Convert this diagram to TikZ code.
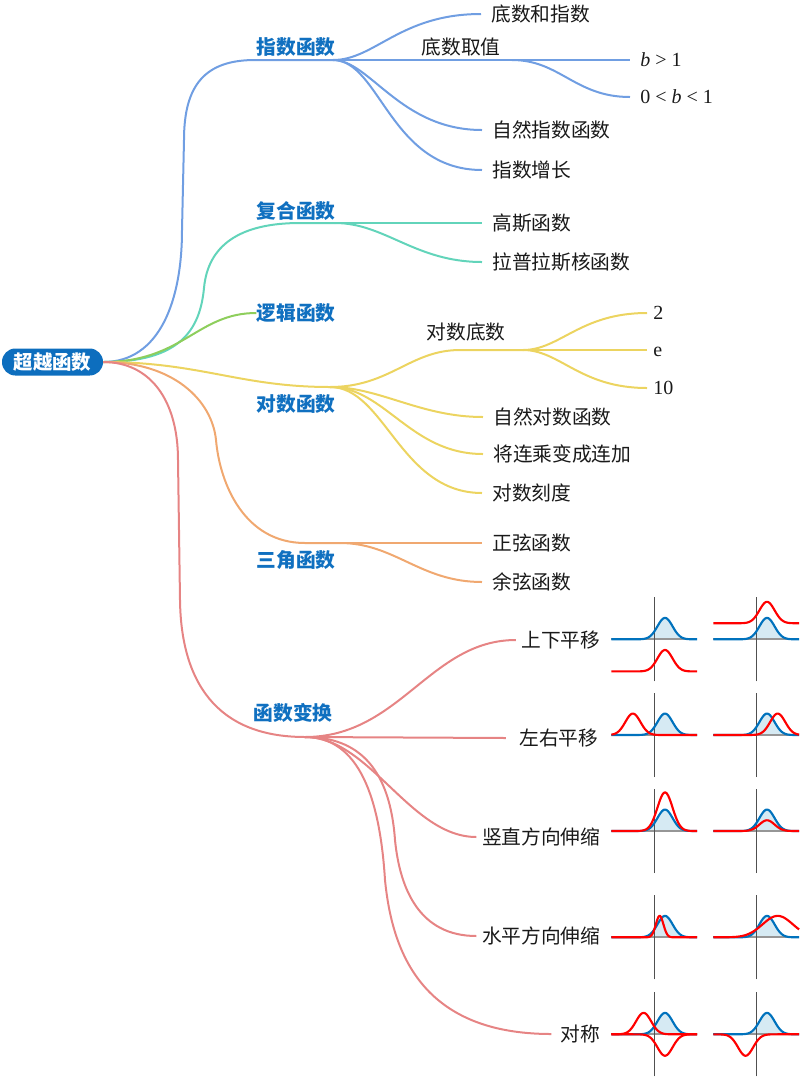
\documentclass[tikz,border=0pt]{standalone}
\usepackage{fontspec}
\setmainfont{Liberation Serif}
\newfontfamily\cjk{Noto Sans CJK SC}
\definecolor{rootblue}{RGB}{13,110,190}
\definecolor{lvblue}{RGB}{16,112,192}
\definecolor{cblue}{RGB}{112,158,226}
\definecolor{cteal}{RGB}{98,212,186}
\definecolor{cgreen}{RGB}{142,206,92}
\definecolor{cyellow}{RGB}{236,212,96}
\definecolor{corange}{RGB}{240,168,112}
\definecolor{cred}{RGB}{230,132,132}
\definecolor{pblue}{RGB}{0,114,189}
\definecolor{pfill}{RGB}{214,234,243}
\definecolor{pgray}{RGB}{150,150,150}
\definecolor{paxis}{RGB}{80,80,80}
\definecolor{txt}{RGB}{25,25,25}
\tikzset{
  conn/.style={line width=1.5pt},
  rootbox/.style={fill=rootblue, text=white, font=\cjk\bfseries\fontsize{14.6pt}{16pt}\selectfont,
    rounded corners=10pt, minimum width=75.75pt, minimum height=20.25pt, inner sep=0pt,
    text height=11.2pt, text depth=0pt},
  lvone/.style={text=lvblue, font=\cjk\bfseries\fontsize{14.8pt}{16pt}\selectfont,
    inner sep=0pt, text height=11.2pt, text depth=0pt},
  plain/.style={text=txt, font=\cjk\fontsize{14.8pt}{16pt}\selectfont,
    inner sep=0pt, text height=11.2pt, text depth=0pt},
  child/.style={plain, anchor=west, inner xsep=7.5pt},
  rchild/.style={plain, anchor=east, inner xsep=4pt},
  numchild/.style={text=txt, font=\fontsize{15pt}{17pt}\selectfont, anchor=west,
    inner xsep=4.5pt, inner ysep=0pt, text height=10.2pt, text depth=0pt},
  bchild/.style={numchild, inner xsep=7.5pt},
  pfillst/.style={fill=pfill},
  pbasest/.style={draw=pgray, line width=1.5pt},
  paxisst/.style={draw=paxis, line width=0.8pt},
  pbluest/.style={draw=pblue, line width=1.6pt},
  predst/.style={draw=red, line width=1.6pt},
  gbase/.pic={
    \fill[pfillst] (-4,0) -- plot[domain=-4:4,samples=120] (\x,{gs(\x,1)}) -- (4,0) -- cycle;
    \draw[pbasest] (-4,0) -- (4,0);
    \draw[paxisst] (0,-3.93) -- (0,3.93);
    \draw[pbluest] plot[domain=-4:4,samples=120] (\x,{gs(\x,1)});
  }
}
\begin{document}
\begin{tikzpicture}[x=0.75pt,y=-0.75pt,
  declare function={gs(\t,\c)=2*exp(-((\t-\c)*(\t-\c)));}]
\useasboundingbox (0,0) rectangle (804,1083);

% root
\node[rootbox] (root) at (52.5,362) {超越函数};

% level 1 labels and branch points
\node[lvone] (zst) at (296,47) {指数函数};
\coordinate (zs) at (333,60);
\node[lvone] (fht) at (296,211) {复合函数};
\coordinate (fh) at (335,223);
\node[lvone] (lj) at (296,313) {逻辑函数};
\node[lvone] (dst) at (296,404) {对数函数};
\coordinate (ds) at (330,387);
\node[lvone] (sjt) at (296,560) {三角函数};
\coordinate (sj) at (340,543);
\node[lvone] (hbt) at (293,713) {函数变换};
\coordinate (hb) at (305,737);

% root connectors
\draw[conn,cblue] (root.east) .. controls (160,362) and (182,300) .. (182,230) -- (184,140)
  .. controls (184,85) and (205,60) .. (255,60) -- (zs);
\draw[conn,cteal] (root.east) .. controls (180,362) and (200,330) .. (204,288)
  .. controls (208,245) and (240,223) .. (300,223) -- (fh);
\draw[conn,cgreen] (root.east) .. controls (183,362) and (197,313) .. (lj.west);
\draw[conn,cyellow] (root.east) .. controls (200,362) and (240,387) .. (ds);
\draw[conn,corange] (root.east) .. controls (173,362) and (212,400) .. (216,440)
  .. controls (220,485) and (245,543) .. (305,543) -- (sj);
\draw[conn,cred] (root.east) .. controls (150,362) and (178,400) .. (178,460) -- (180,600)
  .. controls (181,680) and (215,737) .. (hb);

% 指数函数
\node[child] (dz) at (481,14) {底数和指数};
\node[plain] (dqt) at (461,47) {底数取值};
\coordinate (dq) at (512,60);
\node[bchild] (b1) at (630,60) {\textit{b} > 1};
\node[bchild] (b01) at (630,97) {0 < \textit{b} < 1};
\node[child] (zrz) at (482,130) {自然指数函数};
\node[child] (zzz) at (482,170) {指数增长};
\draw[conn,cblue] (zs) .. controls (375,60) and (400,14) .. (dz.west);
\draw[conn,cblue] (zs) -- (dq);
\draw[conn,cblue] (dq) -- (b1.west);
\draw[conn,cblue] (dq) .. controls (560,60) and (575,97) .. (b01.west);
\draw[conn,cblue] (zs) .. controls (370,60) and (400,130) .. (zrz.west);
\draw[conn,cblue] (zs) .. controls (380,60) and (390,170) .. (zzz.west);

% 复合函数
\node[child] (gsn) at (482,223) {高斯函数};
\node[child] (lp) at (482,262) {拉普拉斯核函数};
\draw[conn,cteal] (fh) -- (gsn.west);
\draw[conn,cteal] (fh) .. controls (385,223) and (415,262) .. (lp.west);

% 对数函数
\node[plain] (ddt) at (466,332) {对数底数};
\coordinate (dd) at (523,350);
\node[numchild] (n2) at (647,313) {2};
\node[numchild] (ne) at (647,350) {e};
\node[numchild] (n10) at (647,388) {10};
\node[child] (zrd) at (483,417) {自然对数函数};
\node[child] (jl) at (483,454) {将连乘变成连加};
\node[child] (dk) at (482,493) {对数刻度};
\draw[conn,cyellow] (ds) .. controls (390,387) and (410,350) .. (460,350) -- (dd);
\draw[conn,cyellow] (dd) .. controls (560,350) and (580,313) .. (n2.west);
\draw[conn,cyellow] (dd) -- (ne.west);
\draw[conn,cyellow] (dd) .. controls (560,350) and (580,388) .. (n10.west);
\draw[conn,cyellow] (ds) .. controls (380,387) and (420,417) .. (zrd.west);
\draw[conn,cyellow] (ds) .. controls (385,387) and (410,454) .. (jl.west);
\draw[conn,cyellow] (ds) .. controls (385,387) and (400,493) .. (dk.west);

% 三角函数
\node[child] (zx) at (482,543) {正弦函数};
\node[child] (yx) at (482,582) {余弦函数};
\draw[conn,corange] (sj) -- (zx.west);
\draw[conn,corange] (sj) .. controls (395,543) and (420,582) .. (yx.west);

% 函数变换
\node[rchild] (sx) at (606,640) {上下平移};
\node[rchild, inner xsep=10pt] (zy) at (612,738) {左右平移};
\node[rchild] (sz) at (606,837) {竖直方向伸缩};
\node[rchild] (spz) at (606,936) {水平方向伸缩};
\node[rchild, inner xsep=7pt] (dc) at (610,1034) {对称};
\draw[conn,cred] (hb) .. controls (400,737) and (430,640) .. (sx.west);
\draw[conn,cred] (hb) -- (zy.west);
\draw[conn,cred] (hb) .. controls (370,737) and (410,837) .. (sz.west);
\draw[conn,cred] (hb) .. controls (360,737) and (390,770) .. (395,840)
  .. controls (400,890) and (420,936) .. (spz.west);
\draw[conn,cred] (hb) .. controls (360,737) and (380,800) .. (385,880)
  .. controls (392,950) and (420,1034) .. (dc.west);

% plots
\begin{scope}[shift={(654.3,639.3)},x=8.03pt,y=8.03pt]
  \pic {gbase};
  \draw[predst] plot[domain=-4:4,samples=120] (\x,{gs(\x,1)-3});
\end{scope}
\begin{scope}[shift={(756.3,639.3)},x=8.03pt,y=8.03pt]
  \pic {gbase};
  \draw[predst] plot[domain=-4:4,samples=120] (\x,{gs(\x,1)+1.5});
\end{scope}
\begin{scope}[shift={(654.3,735)},x=8.03pt,y=8.03pt]
  \pic {gbase};
  \draw[predst] plot[domain=-4:4,samples=120] (\x,{gs(\x,-2)});
\end{scope}
\begin{scope}[shift={(756.3,735)},x=8.03pt,y=8.03pt]
  \pic {gbase};
  \draw[predst] plot[domain=-4:4,samples=120] (\x,{gs(\x,2)});
\end{scope}
\begin{scope}[shift={(654.3,831)},x=8.03pt,y=8.03pt]
  \pic {gbase};
  \draw[predst] plot[domain=-4:4,samples=120] (\x,{1.8*gs(\x,1)});
\end{scope}
\begin{scope}[shift={(756.3,831)},x=8.03pt,y=8.03pt]
  \pic {gbase};
  \draw[predst] plot[domain=-4:4,samples=120] (\x,{0.5*gs(\x,1)});
\end{scope}
\begin{scope}[shift={(654.3,937.3)},x=8.03pt,y=8.03pt]
  \pic {gbase};
  \draw[predst] plot[domain=-4:4,samples=160] (\x,{gs(2*(\x),1)});
\end{scope}
\begin{scope}[shift={(756.3,937.3)},x=8.03pt,y=8.03pt]
  \pic {gbase};
  \draw[predst] plot[domain=-4:4,samples=120] (\x,{gs((\x)/2,1)});
\end{scope}
\begin{scope}[shift={(654.3,1034.3)},x=8.03pt,y=8.03pt]
  \pic {gbase};
  \draw[predst] plot[domain=-4:4,samples=120] (\x,{gs(\x,-1)});
  \draw[predst] plot[domain=-4:4,samples=120] (\x,{0-gs(\x,1)});
\end{scope}
\begin{scope}[shift={(756.3,1034.3)},x=8.03pt,y=8.03pt]
  \pic {gbase};
  \draw[predst] plot[domain=-4:4,samples=120] (\x,{0-gs(\x,-1)});
\end{scope}
\end{tikzpicture}
\end{document}
